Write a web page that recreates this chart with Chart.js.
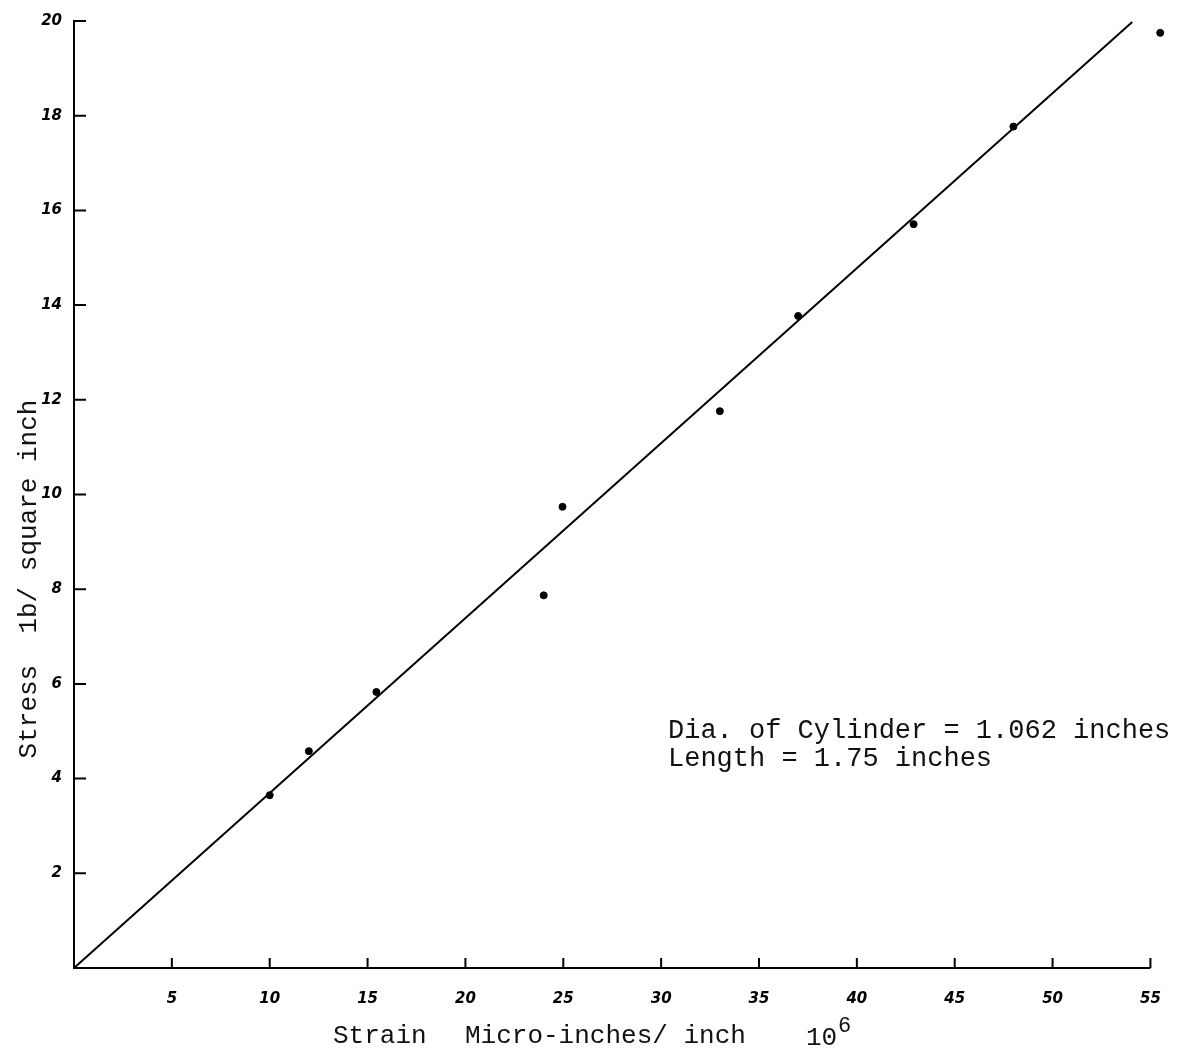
<!DOCTYPE html>
<html>
<head>
<meta charset="utf-8">
<script src="https://cdn.jsdelivr.net/npm/chart.js@4/dist/chart.umd.min.js"></script>
<style>
  html, body { margin: 0; padding: 0; background: #fff; }
  #wrap { width: 1184px; height: 1049px; }
</style>
</head>
<body>
<div id="wrap"><canvas id="stressChart" width="1184" height="1049"></canvas></div>
<script>
// Measured points (strain, stress)
var strainVals = [10.0, 12.0, 15.45, 24.0, 24.96, 33.0, 37.0, 42.9, 48.0, 55.5];
var stressVals = [3.65, 4.58, 5.83, 7.87, 9.74, 11.76, 13.77, 15.71, 17.77, 19.75];

// Hand drawn fit line, ends
var fitStrain = [0, 54.07];
var fitStress = [0, 19.98];

// Tick labels
var strainTicks = [5, 10, 15, 20, 25, 30, 35, 40, 45, 50, 55];
var stressTicks = [2, 4, 6, 8, 10, 12, 14, 16, 18, 20];

var noteLines = ['Dia. of Cylinder = 1.062 inches', 'Length = 1.75 inches'];

var monoFont = '"Liberation Mono", "DejaVu Sans Mono", monospace';
var handFont = { family: '"DejaVu Sans", sans-serif', size: 15, weight: 'bold', style: 'italic' };

function toPoints(xs, ys) {
    var pts = [];
    for (var i = 0; i < xs.length; i++)
        pts.push({ x: xs[i], y: ys[i] });
    return pts;
}

/**
 * Draws the x axis line (it stops at the last tick), inward tick marks,
 * the typed axis titles and the note.
 */
var paperPlugin = {
    id: 'paper',
    afterDraw: function (chart) {
        var ctx = chart.ctx;
        var xs = chart.scales.x, ys = chart.scales.y;
        var area = chart.chartArea;
        var lastX = xs.getPixelForValue(strainTicks[strainTicks.length - 1]);

        ctx.save();
        ctx.strokeStyle = '#000';
        ctx.lineWidth = 2;
        ctx.beginPath();
        ctx.moveTo(area.left, area.bottom);
        ctx.lineTo(lastX, area.bottom);
        for (var i = 0; i < stressTicks.length; i++) {
            var py = ys.getPixelForValue(stressTicks[i]);
            ctx.moveTo(area.left, py);
            ctx.lineTo(area.left + 12, py);
        }
        for (var j = 0; j < strainTicks.length; j++) {
            var px = xs.getPixelForValue(strainTicks[j]);
            ctx.moveTo(px, area.bottom);
            ctx.lineTo(px, area.bottom - 10);
        }
        ctx.stroke();

        ctx.fillStyle = '#111';
        ctx.textAlign = 'left';
        ctx.textBaseline = 'alphabetic';

        // x title
        ctx.font = '26px ' + monoFont;
        ctx.fillText('Strain', 333, 1043);
        ctx.fillText('Micro-inches/ inch', 465, 1043);
        ctx.fillText('10', 806, 1045);
        ctx.font = '22px ' + monoFont;
        ctx.fillText('6', 838, 1032);

        // y title
        ctx.save();
        ctx.translate(36, 579);
        ctx.rotate(-Math.PI / 2);
        ctx.textAlign = 'center';
        ctx.font = '26px ' + monoFont;
        ctx.fillText('Stress  1b/ square inch', 0, 0);
        ctx.restore();

        // note
        ctx.font = '27px ' + monoFont;
        ctx.fillText(noteLines[0], 668, 738);
        ctx.fillText(noteLines[1], 668, 766);
        ctx.restore();
    }
};

var ctx = document.getElementById('stressChart').getContext('2d');
var stressChart = new Chart(ctx, {
    type: 'scatter',
    data: {
        datasets: [{
            label: 'Fit',
            data: toPoints(fitStrain, fitStress),
            showLine: true,
            borderColor: '#000',
            borderWidth: 2,
            pointRadius: 0,
            clip: false
        }, {
            label: 'Measured',
            data: toPoints(strainVals, stressVals),
            backgroundColor: '#000',
            borderColor: '#000',
            pointRadius: 3.5,
            clip: false
        }]
    },
    options: {
        responsive: false,
        animation: false,
        events: [],
        layout: { padding: { top: 17, right: 14, left: 0, bottom: 0 } },
        plugins: { legend: { display: false }, tooltip: { enabled: false } },
        scales: {
            x: {
                type: 'linear', min: 0, max: 56,
                afterBuildTicks: function (scale) {
                    scale.ticks = strainTicks.map(function (v) { return { value: v }; });
                },
                afterFit: function (scale) { scale.height = 81; },
                grid: { display: true, drawOnChartArea: false, drawTicks: false },
                border: { display: false },
                ticks: { color: '#000', font: handFont, padding: 22, maxRotation: 0, autoSkip: false }
            },
            y: {
                type: 'linear', min: 0, max: 20,
                afterBuildTicks: function (scale) {
                    scale.ticks = stressTicks.map(function (v) { return { value: v }; });
                },
                afterFit: function (scale) { scale.width = 74; },
                grid: { display: true, drawOnChartArea: false, drawTicks: false },
                border: { display: true, color: '#000', width: 2 },
                ticks: { color: '#000', font: handFont, padding: 12, autoSkip: false }
            }
        }
    },
    plugins: [paperPlugin]
});
</script>
</body>
</html>
